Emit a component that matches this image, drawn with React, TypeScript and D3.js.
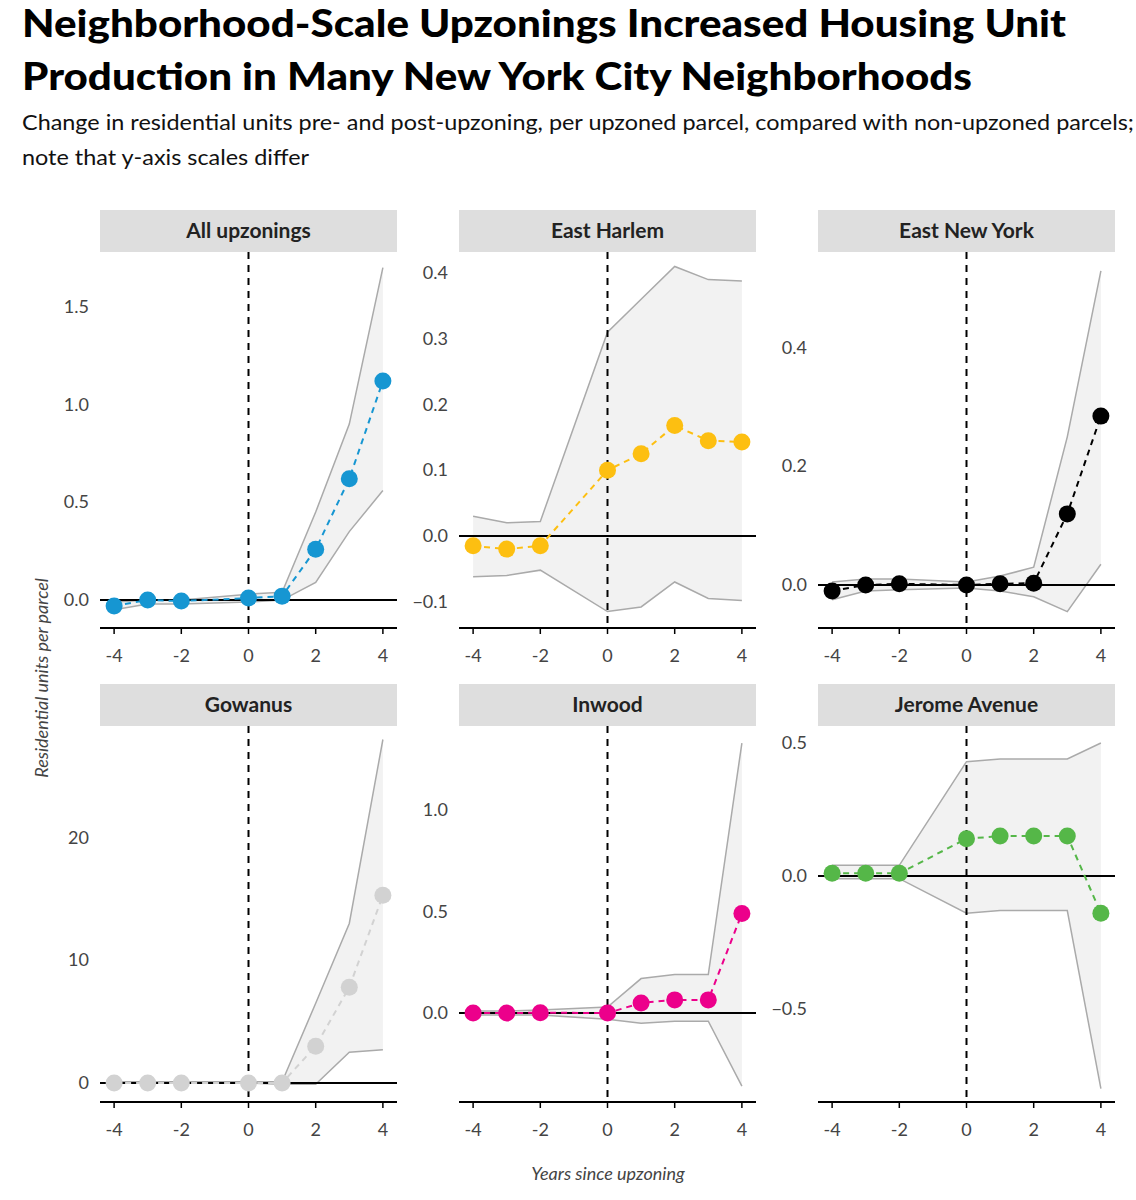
import React from 'react';
import * as d3 from 'd3';

const years = [-4, -3, -2, 0, 1, 2, 3, 4];
const panelNames = ['All upzonings', 'East Harlem', 'East New York', 'Gowanus', 'Inwood', 'Jerome Avenue'];
const colors = ['#1696d2', '#fdbf11', '#000000', '#d2d2d2', '#ec008b', '#55b748'];

const estimates = [
  [-0.03, 0, -0.005, 0.01, 0.02, 0.26, 0.62, 1.12],
  [-0.015, -0.02, -0.015, 0.1, 0.125, 0.168, 0.145, 0.143],
  [-0.01, 0.0, 0.002, 0.0, 0.002, 0.003, 0.12, 0.285],
  [0, 0, 0, 0, 0, 3, 7.8, 15.3],
  [0, 0, 0.002, 0, 0.05, 0.065, 0.065, 0.49],
  [0.01, 0.01, 0.01, 0.14, 0.15, 0.15, 0.15, -0.14],
];
const upper = [
  [-0.01, 0.0, 0.0, 0.03, 0.04, 0.45, 0.9, 1.7],
  [0.03, 0.02, 0.022, 0.31, 0.36, 0.41, 0.39, 0.388],
  [0.005, 0.01, 0.01, 0.005, 0.015, 0.03, 0.25, 0.53],
  [0.1, 0.1, 0.1, 0.1, 0.1, 6.5, 13, 28],
  [0.01, 0.01, 0.015, 0.03, 0.17, 0.19, 0.19, 1.33],
  [0.04, 0.04, 0.04, 0.43, 0.44, 0.44, 0.44, 0.5],
];
const lower = [
  [-0.05, -0.02, -0.02, -0.01, 0.0, 0.09, 0.35, 0.56],
  [-0.062, -0.06, -0.052, -0.115, -0.108, -0.07, -0.095, -0.098],
  [-0.025, -0.01, -0.008, -0.005, -0.01, -0.02, -0.045, 0.035],
  [0, 0, 0, 0, -0.1, -0.1, 2.5, 2.7],
  [-0.01, -0.01, -0.01, -0.03, -0.05, -0.04, -0.04, -0.36],
  [-0.01, -0.01, -0.01, -0.14, -0.13, -0.13, -0.13, -0.8],
];
const yDomains: [number, number][] = [
  [-0.143, 1.78], [-0.14, 0.432], [-0.0726, 0.562],
  [-1.55, 29.1], [-0.438, 1.414], [-0.85, 0.564],
];
const yTicks = [
  [0, 0.5, 1.0, 1.5], [-0.1, 0, 0.1, 0.2, 0.3, 0.4], [0, 0.2, 0.4],
  [0, 10, 20], [0, 0.5, 1.0], [-0.5, 0, 0.5],
];
const yFormats = ['.1f', '.1f', '.1f', 'd', '.1f', '.1f'];
const xTicks = [-4, -2, 0, 2, 4];

const font = 'Lato, "Open Sans", sans-serif';
const colX = [100, 459, 818];
const rowY = [210, 684];
const panelW = 297, stripH = 42, plotH = 376;

function Panel({ i }: { i: number }) {
  const left = colX[i % 3];
  const top = rowY[Math.floor(i / 3)] + stripH;
  const x = d3.scaleLinear().domain([-4.42, 4.42]).range([left, left + panelW]);
  const y = d3.scaleLinear().domain(yDomains[i]).range([top + plotH, top]);
  const pts = years.map((yr, k) => ({ yr, e: estimates[i][k], u: upper[i][k], l: lower[i][k] }));
  const area = d3.area<typeof pts[0]>().x(d => x(d.yr)).y0(d => y(d.l)).y1(d => y(d.u))(pts)!;
  const up = d3.line<typeof pts[0]>().x(d => x(d.yr)).y(d => y(d.u))(pts)!;
  const lo = d3.line<typeof pts[0]>().x(d => x(d.yr)).y(d => y(d.l))(pts)!;
  const est = d3.line<typeof pts[0]>().x(d => x(d.yr)).y(d => y(d.e))(pts)!;
  const fmt = d3.format(yFormats[i]);
  const col = colors[i];
  return (
    <g>
      <rect x={left} y={top - stripH} width={panelW} height={stripH} fill="#dedede" />
      <text x={left + panelW / 2} y={top - stripH / 2 + 7} textAnchor="middle" fontSize={21} fontWeight={700} fill="#222">{panelNames[i]}</text>
      <path d={area} fill="#f2f2f2" />
      <path d={up} fill="none" stroke="#aaaaaa" strokeWidth={1.5} />
      <path d={lo} fill="none" stroke="#aaaaaa" strokeWidth={1.5} />
      <line x1={left} x2={left + panelW} y1={y(0)} y2={y(0)} stroke="#000" strokeWidth={2} />
      <line x1={x(0)} x2={x(0)} y1={top} y2={top + plotH} stroke="#000" strokeWidth={2} strokeDasharray="7,6" />
      <path d={est} fill="none" stroke={col} strokeWidth={2} strokeDasharray="6,5" />
      {pts.map(d => <circle key={d.yr} cx={x(d.yr)} cy={y(d.e)} r={8.5} fill={col} />)}
      <line x1={left} x2={left + panelW} y1={top + plotH} y2={top + plotH} stroke="#000" strokeWidth={2} />
      {xTicks.map(t => (
        <g key={t}>
          <line x1={x(t)} x2={x(t)} y1={top + plotH} y2={top + plotH + 6} stroke="#000" strokeWidth={1.5} />
          <text x={x(t)} y={top + plotH + 34} textAnchor="middle" fontSize={18} fill="#444">{t}</text>
        </g>
      ))}
      {yTicks[i].map(t => (
        <text key={t} x={left - 11} y={y(t) + 6} textAnchor="end" fontSize={18} fill="#444">{fmt(t)}</text>
      ))}
    </g>
  );
}

export default function App() {
  return (
    <svg width={1136} height={1200} style={{ position: 'absolute', left: 0, top: 0, background: '#fff' }} fontFamily={font}>
      <text x={22} y={37} fontSize={37} fontWeight={900} fill="#000" textLength={1044} lengthAdjust="spacingAndGlyphs">Neighborhood-Scale Upzonings Increased Housing Unit</text>
      <text x={22} y={90} fontSize={37} fontWeight={900} fill="#000" textLength={950} lengthAdjust="spacingAndGlyphs">Production in Many New York City Neighborhoods</text>
      <text x={22} y={130} fontSize={22} fill="#111" textLength={1112} lengthAdjust="spacingAndGlyphs">Change in residential units pre- and post-upzoning, per upzoned parcel, compared with non-upzoned parcels;</text>
      <text x={22} y={165} fontSize={22} fill="#111" textLength={287} lengthAdjust="spacingAndGlyphs">note that y-axis scales differ</text>
      {panelNames.map((_, i) => <Panel key={i} i={i} />)}
      <text transform="translate(48,678) rotate(-90)" textAnchor="middle" fontSize={18} fontStyle="italic" fill="#444">Residential units per parcel</text>
      <text x={608} y={1180} textAnchor="middle" fontSize={18} fontStyle="italic" fill="#444">Years since upzoning</text>
    </svg>
  );
}
